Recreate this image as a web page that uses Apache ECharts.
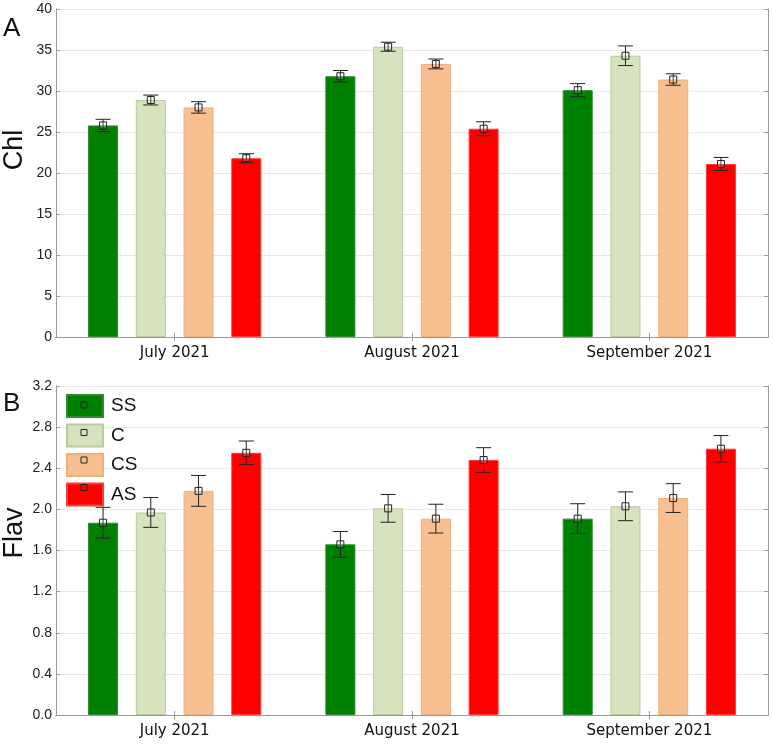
<!DOCTYPE html>
<html>
<head>
<meta charset="utf-8">
<script src="https://cdn.jsdelivr.net/npm/echarts@6/dist/echarts.min.js"></script>
<style>
  html, body { margin: 0; padding: 0; background: #fff; }
  #chart { width: 773px; height: 745px; }
</style>
</head>
<body>
<div id="chart"></div>
<script>
// categories and groups
const months = ['July 2021', 'August 2021', 'September 2021'];
const groups = ['SS', 'C', 'CS', 'AS'];

// panel A: Chl (mean, error)
const chlSS = [25.8, 31.8, 30.1];
const chlC  = [28.9, 35.4, 34.3];
const chlCS = [28.0, 33.3, 31.4];
const chlAS = [21.8, 25.4, 21.1];
const chlErrSS = [0.75, 0.7, 0.8];
const chlErrC  = [0.6, 0.55, 1.2];
const chlErrCS = [0.7, 0.6, 0.7];
const chlErrAS = [0.55, 0.85, 0.8];

// panel B: Flav (mean, error)
const flavSS = [1.87, 1.66, 1.91];
const flavC  = [1.97, 2.01, 2.03];
const flavCS = [2.18, 1.91, 2.11];
const flavAS = [2.55, 2.48, 2.59];
const flavErrSS = [0.15, 0.125, 0.145];
const flavErrC  = [0.145, 0.135, 0.14];
const flavErrCS = [0.15, 0.14, 0.14];
const flavErrAS = [0.115, 0.12, 0.128];

const colors = ['#008000', '#d7e3bf', '#f8c090', '#ff0000'];
const borders = ['#2e8b2e', '#b8cb9c', '#eeb07f', '#ff3a3a'];

const catGap = 0.27;
const barGapRatio = 0.59;

const chart = echarts.init(document.getElementById('chart'));

function errData(means, errs, k) {
    return means.map((m, i) => [i, k, m, errs[i]]);
}

function renderErr(params, api) {
    const cat = api.value(0);
    const k = api.value(1);
    const mean = api.value(2);
    const err = api.value(3);
    const catW = api.size([1, 0])[0];
    const groupW = catW * (1 - catGap);
    const barW = groupW / (4 + 3 * barGapRatio);
    const dx = -groupW / 2 + barW / 2 + k * barW * (1 + barGapRatio);
    const c = api.coord([cat, mean]);
    const hi = api.coord([cat, mean + err]);
    const lo = api.coord([cat, mean - err]);
    const x = c[0] + dx;
    const cap = 7.5;
    const st = { stroke: '#222', lineWidth: 1, fill: null };
    return {
        type: 'group',
        children: [
            { type: 'line', shape: { x1: x, y1: hi[1], x2: x, y2: lo[1] }, style: st },
            { type: 'line', shape: { x1: x - cap, y1: hi[1], x2: x + cap, y2: hi[1] }, style: st },
            { type: 'line', shape: { x1: x - cap, y1: lo[1], x2: x + cap, y2: lo[1] }, style: st },
            { type: 'rect', shape: { x: x - 3.5, y: c[1] - 3.5, width: 7, height: 7 }, style: { stroke: '#222', lineWidth: 1, fill: 'rgba(255,255,255,0.15)' } }
        ]
    };
}

function bars(axisIdx, lists) {
    return groups.map((g, k) => ({
        name: g,
        type: 'bar',
        xAxisIndex: axisIdx,
        yAxisIndex: axisIdx,
        data: lists[k],
        barGap: (barGapRatio * 100) + '%',
        barCategoryGap: (catGap * 100) + '%',
        itemStyle: { color: colors[k], borderColor: borders[k], borderWidth: 1 }
    }));
}

function errSeries(axisIdx, means, errs) {
    return {
        type: 'custom',
        xAxisIndex: axisIdx,
        yAxisIndex: axisIdx,
        renderItem: renderErr,
        encode: { x: 0, y: 2 },
        data: groups.flatMap((g, k) => errData(means[k], errs[k], k)),
        z: 5,
        silent: true
    };
}

const axisGray = '#9a9a9a';
const tickFont = { fontFamily: 'Liberation Sans, Arial, sans-serif', fontSize: 14, color: '#222' };

function catAxis(gridIndex, pos, showLabel) {
    return {
        type: 'category',
        gridIndex: gridIndex,
        position: pos,
        data: months,
        axisLine: { show: true, lineStyle: { color: axisGray } },
        axisTick: { show: true, inside: true, alignWithLabel: true, length: 4, lineStyle: { color: axisGray } },
        axisLabel: showLabel
            ? { show: true, margin: 9, fontFamily: 'DejaVu Sans, Verdana, sans-serif', fontSize: 15, color: '#111' }
            : { show: false },
        splitLine: { show: false }
    };
}

function valAxis(gridIndex, pos, max, interval, showLabel, fmt) {
    return {
        type: 'value',
        gridIndex: gridIndex,
        position: pos,
        min: 0,
        max: max,
        interval: interval,
        axisLine: { show: true, lineStyle: { color: axisGray } },
        axisTick: { show: true, inside: true, length: 4, lineStyle: { color: axisGray } },
        axisLabel: showLabel ? Object.assign({ show: true, margin: 4, formatter: fmt }, tickFont) : { show: false },
        splitLine: { show: showLabel, lineStyle: { color: '#e8e8e8' } }
    };
}

// small squares inside the legend boxes
const legendMarks = groups.map((g, k) => ({
    type: 'rect',
    shape: { x: 81, y: 402 + k * 27.5, width: 6, height: 6 },
    style: { stroke: '#222', lineWidth: 1, fill: null },
    z: 100
}));

const bigFont = 'Liberation Sans, Arial, sans-serif';

const option = {
    animation: false,
    textStyle: { fontFamily: bigFont },
    grid: [
        { left: 56, right: 5, top: 9, height: 328, outerBoundsMode: 'none' },
        { left: 56, right: 5, top: 386, height: 329, outerBoundsMode: 'none' }
    ],
    legend: {
        data: groups,
        orient: 'vertical',
        left: 66,
        top: 394,
        padding: 0,
        itemWidth: 36,
        itemHeight: 22,
        itemGap: 5.5,
        icon: 'rect',
        textStyle: { fontFamily: bigFont, fontSize: 19, lineHeight: 22, color: '#111', padding: [0, 0, 0, 3] },
        selectedMode: false
    },
    xAxis: [
        catAxis(0, 'bottom', true),
        catAxis(1, 'bottom', true),
        catAxis(0, 'top', false),
        catAxis(1, 'top', false)
    ],
    yAxis: [
        valAxis(0, 'left', 40, 5, true, v => v),
        valAxis(1, 'left', 3.2, 0.4, true, v => v.toFixed(1)),
        valAxis(0, 'right', 40, 5, false),
        valAxis(1, 'right', 3.2, 0.4, false)
    ],
    series: [
        ...bars(0, [chlSS, chlC, chlCS, chlAS]),
        ...bars(1, [flavSS, flavC, flavCS, flavAS]),
        errSeries(0, [chlSS, chlC, chlCS, chlAS], [chlErrSS, chlErrC, chlErrCS, chlErrAS]),
        errSeries(1, [flavSS, flavC, flavCS, flavAS], [flavErrSS, flavErrC, flavErrCS, flavErrAS])
    ],
    graphic: [
        { type: 'text', left: 3, top: 16, style: { text: 'A', fontSize: 26, fontFamily: bigFont, fill: '#111' } },
        { type: 'text', left: 3, top: 391, style: { text: 'B', fontSize: 26, fontFamily: bigFont, fill: '#111' } },
        { type: 'text', x: 15, y: 150, rotation: Math.PI / 2,
          style: { text: 'Chl', fontSize: 27, fontFamily: bigFont, fill: '#111', align: 'center', verticalAlign: 'middle' } },
        { type: 'text', x: 15, y: 533, rotation: Math.PI / 2,
          style: { text: 'Flav', fontSize: 27, fontFamily: bigFont, fill: '#111', align: 'center', verticalAlign: 'middle' } },
        ...legendMarks
    ]
};

chart.setOption(option);
</script>
</body>
</html>
